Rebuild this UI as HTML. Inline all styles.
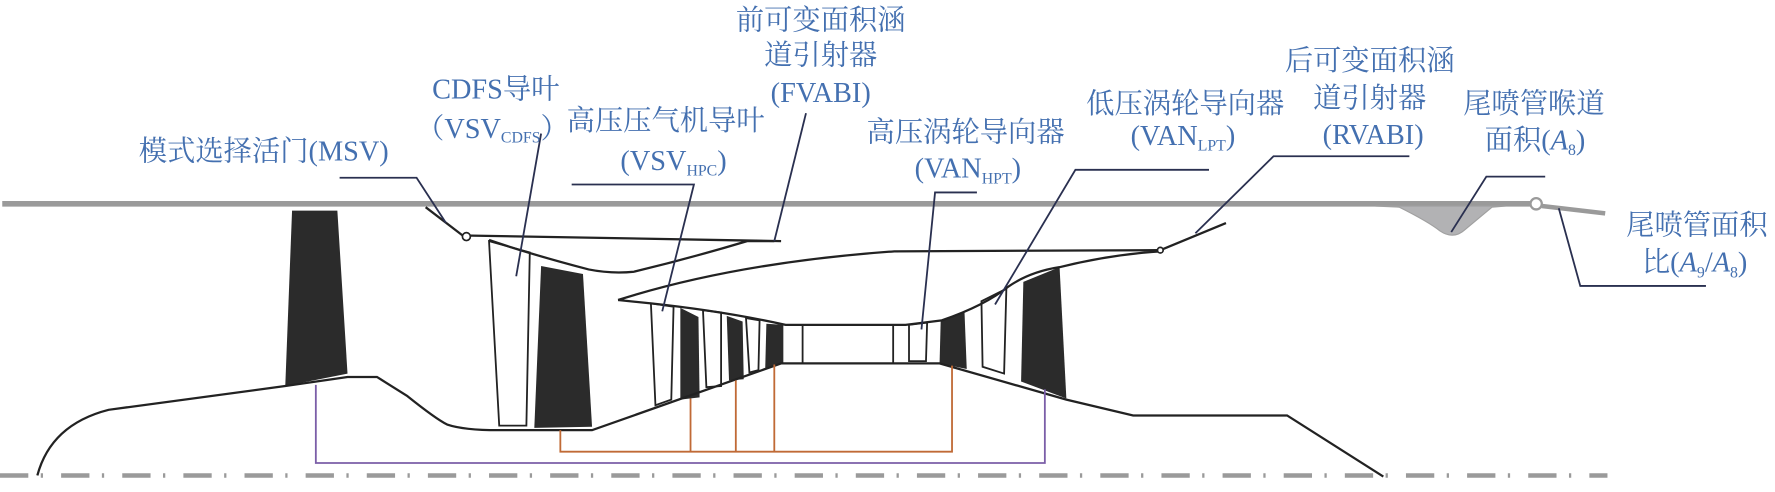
<!DOCTYPE html>
<html><head><meta charset="utf-8"><style>
html,body{margin:0;padding:0;background:#fff;}
svg{display:block;}
text{font-family:"Liberation Serif","Noto Serif CJK SC",serif;fill:#4470b0;font-size:25px;}
.s{font-size:14px;}
</style></head><body>
<svg width="1775" height="492" viewBox="0 0 1568 434.6" xmlns="http://www.w3.org/2000/svg">
<!-- top gray casing -->
<line x1="2" y1="180" x2="1352" y2="180" stroke="#9a9a9a" stroke-width="5"/>
<path d="M1215,182 L1236,183 Q1262,196 1272,204 Q1284,212 1294,203 L1318,183 L1330,182 Z" fill="#b2b2b4" stroke="#a0a0a0" stroke-width="1"/>
<line x1="1362" y1="182" x2="1418" y2="188.5" stroke="#9a9a9a" stroke-width="4"/>
<circle cx="1357" cy="180" r="5" fill="#fff" stroke="#9a9a9a" stroke-width="2"/>
<!-- centerline -->
<line x1="0" y1="420" x2="1420" y2="420" stroke="#9a9a9a" stroke-width="4" stroke-dasharray="25,11,2,16"/>

<g fill="#2b2b2b">
<polygon points="258,186 298,186 307,330 252,341"/>
<polygon points="478,235 515,242 523,377 472,378"/>
<polygon points="601,272 617,280 618,351 601,353"/>
<polygon points="642,279 656,284 657,335 644,336"/>
<polygon points="677,286 692,287 692,321 676,325"/>
<polygon points="831,283 852,275 854,326 830,321"/>
<polygon points="904,249 936,236 942,352 902,337"/>
</g>
<g fill="none" stroke="#222" stroke-width="1.6">
<polygon points="432,213 468,223 465,376 441,376"/>
<polygon points="575,268 595,271 593,353 579,358"/>
<polygon points="621,274 637,276 637,341 624,342"/>
<polygon points="659,281 671,283 670,327 662,329"/>
<polygon points="803,287 819,285 818,319 803,319"/>
<polygon points="867,266 889,255 887,330 868,324"/>
<line x1="709" y1="287" x2="709" y2="321"/>
<line x1="789" y1="287" x2="789" y2="321"/>
</g>
<g fill="none" stroke="#222" stroke-width="2">
<!-- hub -->
<path d="M33,420 Q45,375 96,362 L252,341 L307,333 L333,333 L360,350 Q385,370 395,375 Q410,380 440,380 L523,380 L690,321 L830,321 L942,353 L1001,367 L1137,367 L1222,421"/>
<!-- splitter -->
<path d="M410,208 L690,213"/>
<path d="M432,212 Q470,225 520,238 Q540,242 560,240 Q610,228 660,213 L684,213"/>
<!-- core casing -->
<path d="M546,265 Q650,232 790,222 L1025,221"/>
<path d="M546,265 L575,268 Q640,275 694,287 L800,287 L832,283 Q870,270 891,253 Q910,240 936,236 Q980,225 1025,222"/>
<line x1="1025" y1="221" x2="1083" y2="197"/>
<line x1="376" y1="183" x2="410" y2="209"/>
</g>
<circle cx="412" cy="209" r="3.5" fill="#fff" stroke="#222" stroke-width="1.5"/>
<circle cx="1025" cy="221" r="2.5" fill="#fff" stroke="#222" stroke-width="1.5"/>

<!-- control lines -->
<g fill="none" stroke="#c06a36" stroke-width="1.6">
<path d="M495,380 L495,399 L841,399 L841,323"/>
<line x1="610" y1="352" x2="610" y2="399"/>
<line x1="650" y1="336" x2="650" y2="399"/>
<line x1="684" y1="322" x2="684" y2="399"/>
</g>
<path d="M279,340 L279,409 L923,409 L923,344" fill="none" stroke="#7b5ea8" stroke-width="1.6"/>

<!-- label leader lines -->
<g fill="none" stroke="#2a3050" stroke-width="1.6">
<path d="M300,157 L368,157 L394,197"/>
<path d="M478,118 L456,244"/>
<path d="M684,213 L712,100"/>
<path d="M505,163 L613,163 L585,275"/>
<path d="M863,170 L826,170 L814,291"/>
<path d="M1068,150 L950,150 L879,269"/>
<path d="M1245,138 L1125,138 L1056,206"/>
<path d="M1365,156 L1313,156 L1282,205"/>
<path d="M1377,184 L1396,252.6 L1507,252.6"/>
</g>

<!-- texts -->
<g text-anchor="middle">
<text x="725" y="26">前可变面积涵</text>
<text x="725" y="57">道引射器</text>
<text x="725" y="90">(FVABI)</text>
<text x="438" y="87">CDFS导叶</text>
<text x="435" y="122">（VSV<tspan class="s" dy="4">CDFS</tspan><tspan dy="-4">）</tspan></text>
<text x="588" y="115">高压压气机导叶</text>
<text x="595" y="150">(VSV<tspan class="s" dy="5">HPC</tspan><tspan dy="-5">)</tspan></text>
<text x="233" y="142">模式选择活门(MSV)</text>
<text x="853" y="125">高压涡轮导向器</text>
<text x="855" y="157">(VAN<tspan class="s" dy="5">HPT</tspan><tspan dy="-5">)</tspan></text>
<text x="1047" y="100">低压涡轮导向器</text>
<text x="1045" y="128">(VAN<tspan class="s" dy="5">LPT</tspan><tspan dy="-5">)</tspan></text>
<text x="1210" y="62">后可变面积涵</text>
<text x="1210" y="95">道引射器</text>
<text x="1213" y="127">(RVABI)</text>
<text x="1355" y="100">尾喷管喉道</text>
<text x="1356" y="132">面积(<tspan font-style="italic">A</tspan><tspan class="s" dy="5">8</tspan><tspan dy="-5">)</tspan></text>
<text x="1499" y="207">尾喷管面积</text>
<text x="1497" y="240">比(<tspan font-style="italic">A</tspan><tspan class="s" dy="5">9</tspan><tspan dy="-5">/</tspan><tspan font-style="italic">A</tspan><tspan class="s" dy="5">8</tspan><tspan dy="-5">)</tspan></text>
</g>
</svg>
</body></html>
